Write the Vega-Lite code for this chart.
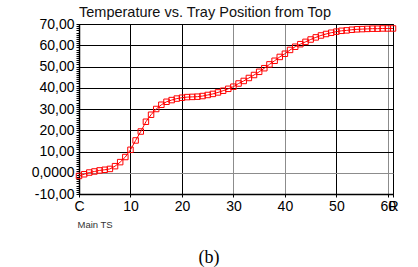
{
  "$schema": "https://vega.github.io/schema/vega-lite/v6.json",
  "width": 314,
  "height": 170,
  "autosize": {"type": "none"},
  "padding": {"left": 79, "top": 24, "right": 25, "bottom": 73},
  "background": "white",
  "title": {
    "text": "Temperature vs. Tray Position from Top",
    "anchor": "start",
    "frame": "group",
    "font": "Liberation Sans",
    "fontSize": 14.5,
    "fontWeight": "normal",
    "color": "#111",
    "baseline": "alphabetic",
    "offset": 3,
    "dy": 17
  },
  "config": {
    "view": {"stroke": "#000", "strokeWidth": 1},
    "axis": {"labelFont": "Liberation Sans", "titleFont": "Liberation Sans", "labelColor": "#000", "tickColor": "#000", "domainColor": "#000"}
  },
  "data": {
    "values": [
      {"tray": 0, "temp": -1.5}, {"tray": 1, "temp": -0.7}, {"tray": 2, "temp": 0.1}, {"tray": 3, "temp": 0.6},
      {"tray": 4, "temp": 1.1}, {"tray": 5, "temp": 1.4}, {"tray": 6, "temp": 1.8}, {"tray": 7, "temp": 3.1},
      {"tray": 8, "temp": 5.0}, {"tray": 9, "temp": 7.4}, {"tray": 10, "temp": 10.8}, {"tray": 11, "temp": 15.2},
      {"tray": 12, "temp": 19.4}, {"tray": 13, "temp": 24.0}, {"tray": 14, "temp": 27.3}, {"tray": 15, "temp": 30.0},
      {"tray": 16, "temp": 32.0}, {"tray": 17, "temp": 33.4}, {"tray": 18, "temp": 34.2}, {"tray": 19, "temp": 34.9},
      {"tray": 20, "temp": 35.3}, {"tray": 21, "temp": 35.6}, {"tray": 22, "temp": 35.7}, {"tray": 23, "temp": 35.8},
      {"tray": 24, "temp": 36.1}, {"tray": 25, "temp": 36.6}, {"tray": 26, "temp": 37.1}, {"tray": 27, "temp": 37.8},
      {"tray": 28, "temp": 38.6}, {"tray": 29, "temp": 39.5}, {"tray": 30, "temp": 40.5}, {"tray": 31, "temp": 42.0},
      {"tray": 32, "temp": 43.2}, {"tray": 33, "temp": 44.6}, {"tray": 34, "temp": 46.0}, {"tray": 35, "temp": 47.5},
      {"tray": 36, "temp": 49.2}, {"tray": 37, "temp": 51.0}, {"tray": 38, "temp": 52.7}, {"tray": 39, "temp": 54.5},
      {"tray": 40, "temp": 56.0}, {"tray": 41, "temp": 57.8}, {"tray": 42, "temp": 59.3}, {"tray": 43, "temp": 60.5},
      {"tray": 44, "temp": 61.6}, {"tray": 45, "temp": 62.7}, {"tray": 46, "temp": 63.7}, {"tray": 47, "temp": 64.6},
      {"tray": 48, "temp": 65.3}, {"tray": 49, "temp": 65.9}, {"tray": 50, "temp": 66.4}, {"tray": 51, "temp": 66.8},
      {"tray": 52, "temp": 67.0}, {"tray": 53, "temp": 67.3}, {"tray": 54, "temp": 67.5}, {"tray": 55, "temp": 67.6},
      {"tray": 56, "temp": 67.7}, {"tray": 57, "temp": 67.8}, {"tray": 58, "temp": 67.8}, {"tray": 59, "temp": 67.9},
      {"tray": 60, "temp": 67.9}, {"tray": 61, "temp": 67.9}
    ]
  },
  "mark": {
    "type": "line",
    "color": "#ff0000",
    "strokeWidth": 1,
    "clip": false,
    "point": {"shape": "square", "filled": false, "size": 30, "color": "#ff0000", "strokeWidth": 1}
  },
  "encoding": {
    "x": {
      "field": "tray",
      "type": "quantitative",
      "scale": {"domain": [0, 61], "nice": false, "zero": false},
      "axis": {
        "values": [0, 10, 20, 30, 40, 50, 60, 61],
        "labelExpr": "datum.value == 0 ? 'C' : (datum.value == 61 ? 'R' : datum.label)",
        "labelFontSize": 14,
        "labelFlush": false,
        "labelOverlap": false,
        "labelPadding": 2,
        "tickSize": 3,
        "domainWidth": 1.5,
        "grid": true,
        "gridColor": {"condition": {"test": "datum.value == 30 || datum.value == 40 || datum.value == 60", "value": "#8c8c8c"}, "value": "#000"},
        "gridWidth": 1,
        "title": "Main TS",
        "titleFontSize": 9.5,
        "titleFontWeight": "normal",
        "titleColor": "#333",
        "titleAlign": "left",
        "titleBaseline": "alphabetic",
        "titleX": -2,
        "titleY": 33
      }
    },
    "y": {
      "field": "temp",
      "type": "quantitative",
      "scale": {"domain": [-10, 70], "nice": false, "zero": false},
      "axis": {
        "values": [-10,-9,-8,-7,-6,-5,-4,-3,-2,-1,0,1,2,3,4,5,6,7,8,9,10,11,12,13,14,15,16,17,18,19,20,21,22,23,24,25,26,27,28,29,30,31,32,33,34,35,36,37,38,39,40,41,42,43,44,45,46,47,48,49,50,51,52,53,54,55,56,57,58,59,60,61,62,63,64,65,66,67,68,69,70],
        "labelExpr": "datum.value % 10 == 0 ? (datum.value == 0 ? '0,0000' : (datum.value < 0 ? '-' : '') + replace(format(abs(datum.value), '.2f'), '.', ',')) : ''",
        "labelFontSize": 14,
        "labelFlush": false,
        "labelOverlap": false,
        "labelPadding": 2,
        "tickSize": 3,
        "domainWidth": 1.5,
        "grid": true,
        "gridOpacity": {"condition": {"test": "datum.value % 10 == 0", "value": 1}, "value": 0},
        "gridColor": {"condition": {"test": "datum.value == 0", "value": "#8c8c8c"}, "value": "#000"},
        "gridWidth": 1,
        "title": "(b)",
        "titleFont": "Liberation Serif",
        "titleFontSize": 18,
        "titleFontWeight": "normal",
        "titleColor": "#000",
        "titleAngle": 0,
        "titleAlign": "center",
        "titleBaseline": "alphabetic",
        "titleX": 129.5,
        "titleY": 238
      }
    }
  }
}
